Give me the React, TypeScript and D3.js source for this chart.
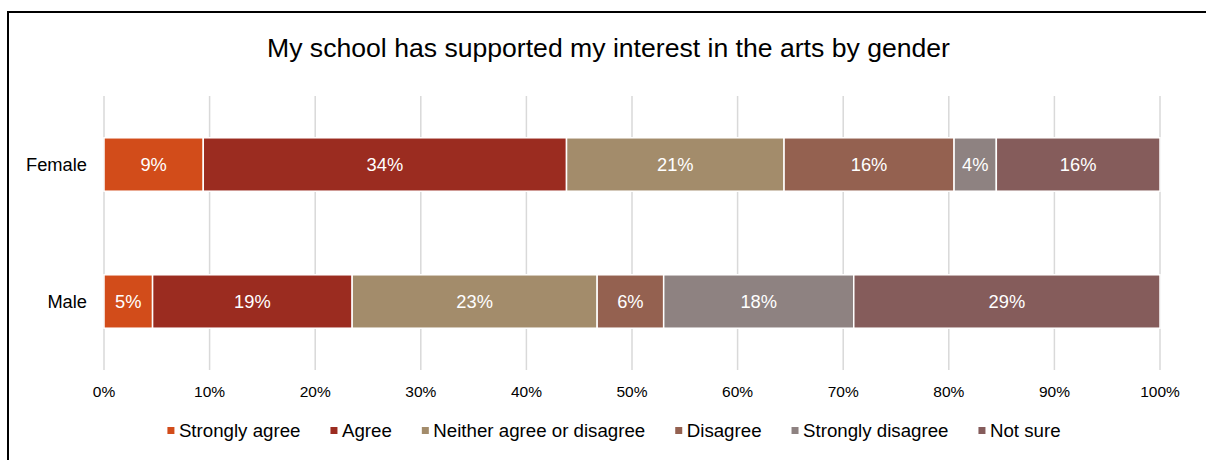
import React from "react";
import * as d3 from "d3";

const categories = ["Female", "Male"];
const seriesNames = [
  "Strongly agree",
  "Agree",
  "Neither agree or disagree",
  "Disagree",
  "Strongly disagree",
  "Not sure",
];
const femaleValues = [9.4, 34.4, 20.6, 16.1, 4.0, 15.5];
const maleValues = [4.6, 18.9, 23.2, 6.3, 18.0, 29.0];
const seriesColors = ["#D24C1A", "#9B2C20", "#A38C6B", "#946150", "#8E8281", "#855C5B"];
const xTicks = [0, 10, 20, 30, 40, 50, 60, 70, 80, 90, 100];
const title = "My school has supported my interest in the arts by gender";

const W = 1206;
const H = 460;
const FONT = "'Liberation Sans', Arial, sans-serif";

function measure(text: string, size: number): number {
  if (typeof document === "undefined") return text.length * size * 0.5;
  const c = document.createElement("canvas");
  const ctx = c.getContext("2d");
  if (!ctx) return text.length * size * 0.5;
  ctx.font = `${size}px ${FONT}`;
  return ctx.measureText(text).width;
}

export default function App() {
  const x = d3.scaleLinear().domain([0, 100]).range([104, 1160]);
  const y = d3.scaleBand().domain(categories).range([96, 370]).paddingInner(0.61).paddingOuter(0.305);

  const rows = [femaleValues, maleValues].map((vals, i) => {
    const obj: any = { category: categories[i] };
    seriesNames.forEach((s, j) => (obj[s] = vals[j]));
    return obj;
  });
  const stacked = d3.stack().keys(seriesNames)(rows);

  const legendFont = 18.7;
  const markerSize = 7;
  const markerGap = 4.5;
  const itemGap = 30;
  const widths = seriesNames.map((s) => markerSize + markerGap + measure(s, legendFont));
  const totalW = widths.reduce((a, b) => a + b, 0) + itemGap * (seriesNames.length - 1);
  let lx = 614 - totalW / 2;
  const legendItems = seriesNames.map((s, i) => {
    const item = { name: s, x: lx, color: seriesColors[i] };
    lx += widths[i] + itemGap;
    return item;
  });

  return (
    <svg
      width={W}
      height={H}
      style={{ position: "absolute", left: 0, top: 0, background: "#fff" }}
      fontFamily={FONT}
    >
      <rect x={0} y={0} width={W} height={H} fill="#fff" />
      <rect x={8} y={12} width={W + 10} height={H + 10} fill="none" stroke="#000" strokeWidth={2} />
      <text x={608.5} y={57} textAnchor="middle" fontSize={26.6} fill="#000">
        {title}
      </text>
      {xTicks.map((t) => (
        <g key={t}>
          <line x1={x(t)} x2={x(t)} y1={96} y2={370} stroke="#D9D9D9" strokeWidth={1.5} />
          <text x={x(t)} y={397} textAnchor="middle" fontSize={15.5} fill="#000">
            {t}%
          </text>
        </g>
      ))}
      {stacked.map((layer, si) => (
        <g key={layer.key}>
          {layer.map((d: any, ci) => {
            const cat = categories[ci];
            const x0 = x(d[0]);
            const x1 = x(d[1]);
            const yy = y(cat) as number;
            const bw = y.bandwidth();
            const v = d[1] - d[0];
            return (
              <g key={cat}>
                <rect
                  x={x0}
                  y={yy}
                  width={x1 - x0}
                  height={bw}
                  fill={seriesColors[si]}
                  stroke="#fff"
                  strokeWidth={1.5}
                />
                <text
                  x={(x0 + x1) / 2}
                  y={yy + bw / 2}
                  dy="0.35em"
                  textAnchor="middle"
                  fontSize={18.3}
                  fill="#fff"
                >
                  {Math.round(v)}%
                </text>
              </g>
            );
          })}
        </g>
      ))}
      {categories.map((c) => (
        <text
          key={c}
          x={87}
          y={(y(c) as number) + y.bandwidth() / 2}
          dy="0.35em"
          textAnchor="end"
          fontSize={18.3}
          fill="#000"
        >
          {c}
        </text>
      ))}
      {legendItems.map((it) => (
        <g key={it.name}>
          <rect x={it.x} y={427} width={markerSize} height={markerSize} fill={it.color} />
          <text x={it.x + markerSize + markerGap} y={437} fontSize={legendFont} fill="#000">
            {it.name}
          </text>
        </g>
      ))}
    </svg>
  );
}
